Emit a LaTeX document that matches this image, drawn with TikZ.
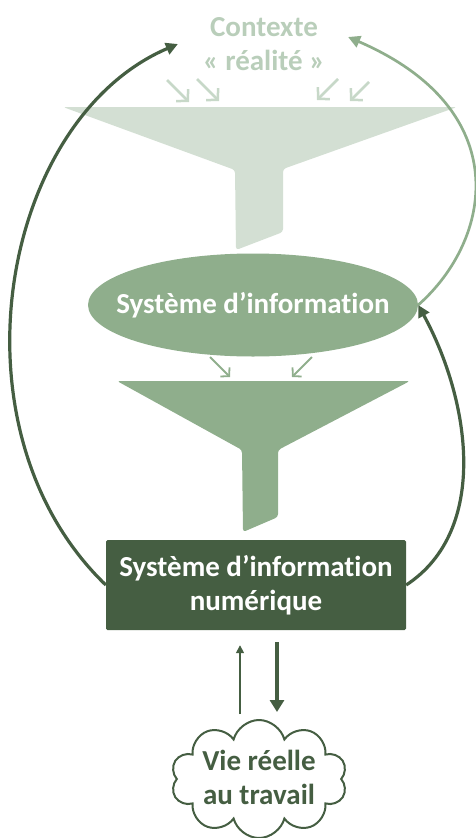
\documentclass[tikz,border=0pt]{standalone}
\usepackage{fontspec}
\setmainfont{Carlito}[Ligatures=NoCommon]
\usetikzlibrary{arrows.meta,positioning,shapes.geometric,shapes.symbols}
\definecolor{vertclair}{HTML}{D3DFD3}
\definecolor{vertpale}{HTML}{B9CEBA}
\definecolor{vertmoyen}{HTML}{8FAE8C}
\definecolor{vertfonce}{HTML}{455E42}
\tikzset{
    >={Triangle[length=12pt,width=12pt]},
    texte/.style={
           font=\fontsize{29}{34}\selectfont\bfseries,
           align=center,
           inner sep=0pt},
    bulle/.style={
           ellipse,
           fill=vertmoyen,
           minimum width=330pt,
           minimum height=103pt},
    boite/.style={
           texte,
           rectangle,
           fill=vertfonce,
           text=white,
           rounded corners=1.5pt,
           minimum width=300pt,
           minimum height=90pt},
    nuage/.style={
           cloud, cloud puffs=10, cloud ignores aspect,
           draw=vertfonce, line width=2pt,
           fill=white,
           inner sep=0pt,
           minimum width=176pt,
           minimum height=118pt},
    boucle/.style={
           ->,
           line width=3.2pt},
    entonnoir/.style={
           ->,
           line width=2.5pt,
           >={Straight Barb[length=8pt,width=17pt]}}
}

\begin{document}
\begin{tikzpicture}[x=1pt, y=-1pt, node distance=90pt]
        \useasboundingbox (0,0) rectangle (475,838);

        \fill[vertclair, rounded corners=3pt] (63,107) -- (457,107) -- (283,169)
            -- (283,232) -- (236,250) -- (235,170) -- cycle;
        \fill[vertmoyen, rounded corners=3pt] (117,381) -- (410,381) -- (278,450)
            -- (278,517) -- (243,532) -- (242,450) -- cycle;

        \node[texte, text=vertpale] (ctx) at (264,44) {Contexte\\« réalité »};
        \node[bulle] (si) at (253,305) {};
        \node[texte, text=white] at (si) {Système d’information};
        \node[boite] (sin) at (256,585) {Système d’information\\numérique};
        \node[nuage] (vie) at (259,779) {};
        \node[texte, text=vertfonce] at ([yshift=2pt]vie) {Vie réelle\\au travail};

        \draw[entonnoir, vertpale!80] (167,80) -- (189,102);
        \draw[entonnoir, vertpale!80] (197,79) -- (219,101);
        \draw[entonnoir, vertpale!80] (338,79) -- (317,100);
        \draw[entonnoir, vertpale!80] (369,82) -- (350,101);

        \draw[entonnoir, vertmoyen, line width=1.8pt,
              >={Straight Barb[length=6pt,width=13pt]}] (210,357) -- (230,377);
        \draw[entonnoir, vertmoyen, line width=1.8pt,
              >={Straight Barb[length=6pt,width=13pt]}] (312,357) -- (292,377);

        \draw[boucle, vertfonce] (sin.west) .. controls (-55,430) and (0,120) .. ([xshift=-25pt]ctx.west);
        \draw[boucle, vertmoyen, line width=2.7pt] (si.east) .. controls (492,240) and (517,110) .. ([xshift=23pt, yshift=7pt]ctx.east);
        \draw[boucle, vertfonce] (sin.east) .. controls (490,530) and (470,400) .. (si.east);

        \draw[->, vertfonce, line width=1.6pt, >={Triangle[length=8pt,width=8pt]},
              shorten >=15pt] ([xshift=-19pt, yshift=5pt]vie.north) -- ([xshift=-16pt]sin.south);
        \draw[->, vertfonce, line width=3.6pt, >={Triangle[length=12pt,width=14pt]},
              shorten <=12pt] ([xshift=21pt]sin.south) -- ([xshift=18pt, yshift=7pt]vie.north);
\end{tikzpicture}
\end{document}
